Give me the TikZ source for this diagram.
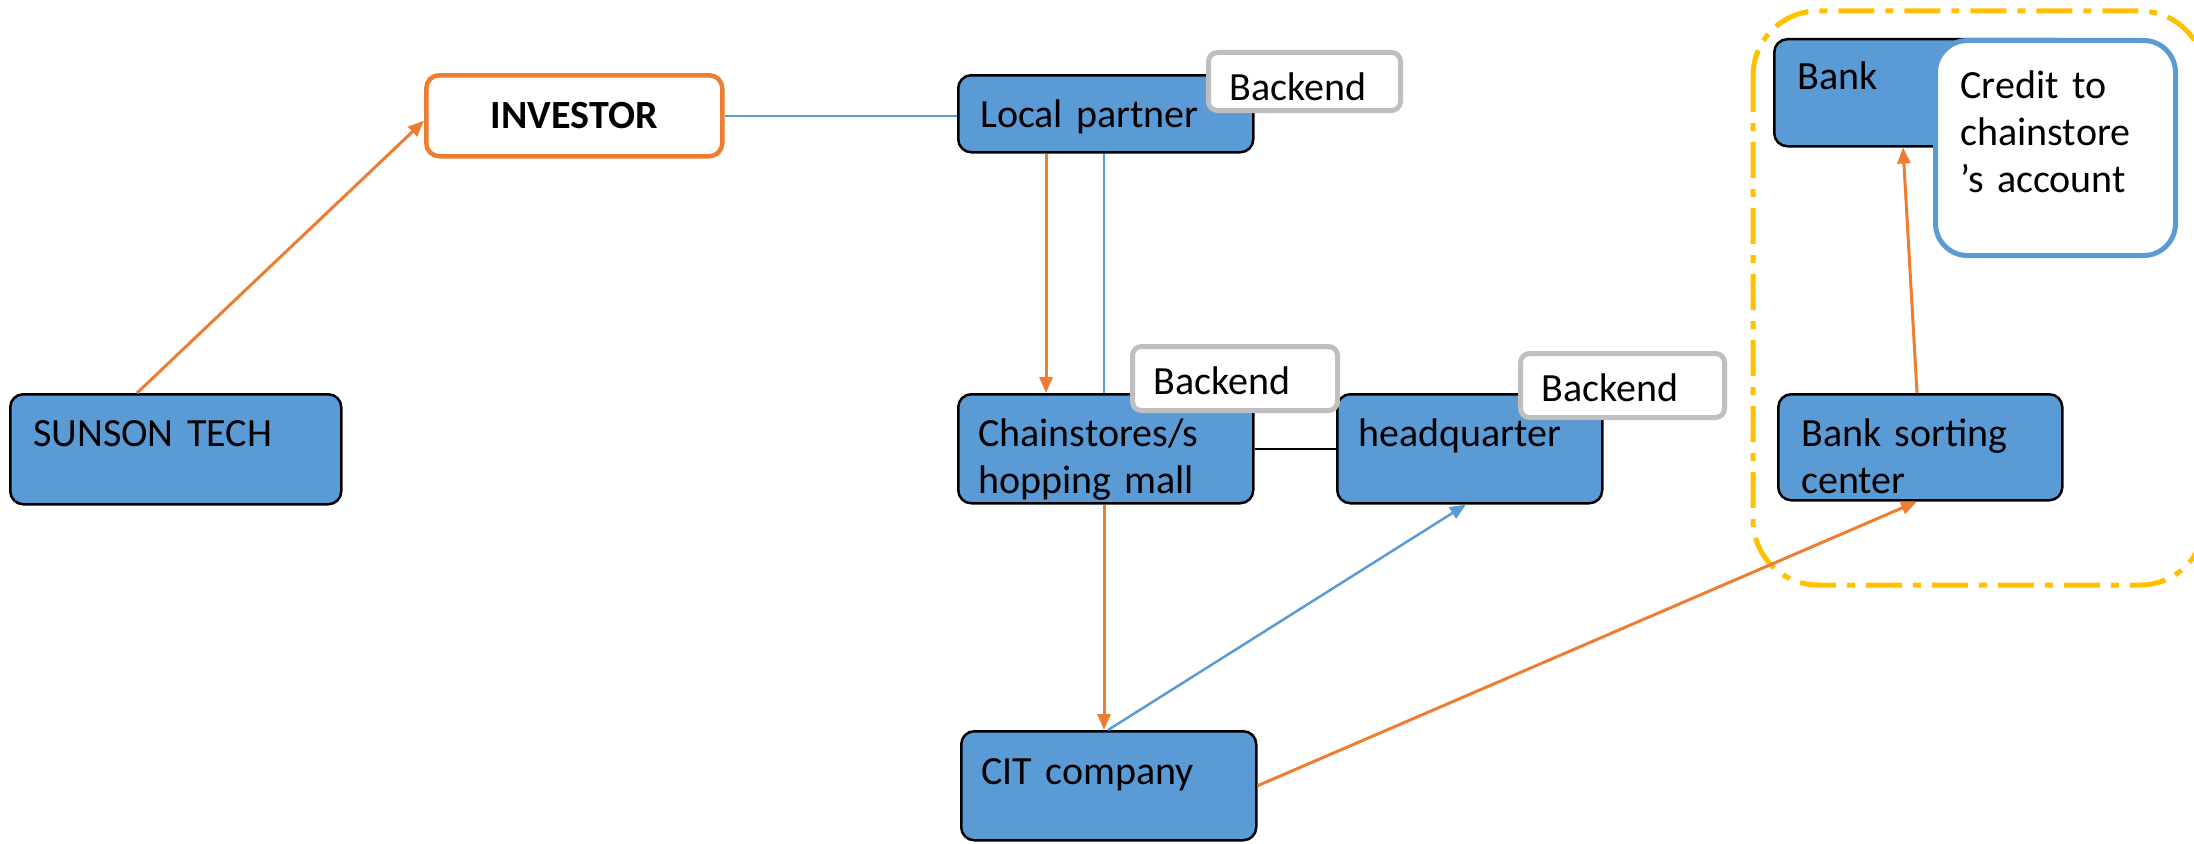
\documentclass[tikz,border=0pt]{standalone}
\usepackage{fontspec}
\setmainfont{Carlito}
\usetikzlibrary{arrows.meta}
\definecolor{boxblue}{HTML}{5B9BD5}
\definecolor{flow}{HTML}{ED7D31}
\definecolor{tagrey}{HTML}{BFBFBF}
\definecolor{zone}{HTML}{FFC000}
\tikzset{
  box/.style = {draw=black, fill=boxblue, line width=2.5pt, rounded corners=13pt,
    anchor=north west, align=left, inner ysep=0pt},
  tag/.style = {draw=tagrey, fill=white, line width=5pt, rounded corners=9pt,
    anchor=north west, align=left, inner xsep=21pt, inner ysep=0pt, text height=48pt},% backend labels
  money/.style = {->, flow, line width=3pt},
  info/.style = {boxblue, line width=2.5pt},
}

\begin{document}
\begin{tikzpicture}[x=1pt, y=-1pt, >={Triangle[length=16pt,width=13pt]},
  font=\fontsize{40pt}{47pt}\selectfont]
\useasboundingbox (0,0) rectangle (2194,843);
% bank side
\draw[zone, line width=5pt, rounded corners=65pt, dash pattern=on 36pt off 11pt on 8pt off 11pt] (1753,11) rectangle (2205,585);

\node[box, inner xsep=23pt, text width=285pt, text height=52pt, text depth=58pt] (sunson) at (9,393) {SUNSON TECH};
\node[draw=flow, fill=white, line width=4.5pt, rounded corners=13pt, anchor=north west,
  minimum width=296pt, minimum height=81pt, inner sep=0pt, font=\fontsize{40pt}{47pt}\selectfont\bfseries] (investor) at (424,73) {INVESTOR};
\node[box, inner xsep=22pt, text width=251pt, text height=52pt, text depth=25pt] (partner) at (957,74) {Local partner};
\node[box, inner xsep=20pt, text width=255pt, text height=52pt, text depth=57pt] (chain) at (957,393) {Chainstores/s\\hopping mall};
\node[box, inner xsep=21pt, text width=223pt, text height=52pt, text depth=57pt] (hq) at (1336,393) {headquarter};
\node[box, inner xsep=20pt, text width=255pt, text height=53pt, text depth=56pt] (cit) at (960,730) {CIT company};
\node[box, inner xsep=23pt, text width=249pt, text height=50pt, text depth=57pt] (bank) at (1773,38) {Bank};
\node[box, inner xsep=23pt, text width=238pt, text height=52pt, text depth=54pt] (sorting) at (1777,393) {Bank sorting\\center};

% flows
\draw[money] ([xshift=128pt]sunson.north west) -- ([yshift=-5pt]investor.west);
\draw[info] (investor.east) -- (investor.east -| partner.west);
\draw[money] ([xshift=89pt]partner.south west) -- ([xshift=89pt]chain.north west);
\draw[info] ([xshift=147pt]partner.south west) -- ([xshift=147pt]chain.north west);
\draw[black, line width=2.5pt] (chain.east) -- (hq.west);
\draw[money] ([xshift=147pt]chain.south west) -- ([xshift=144pt]cit.north west);
\draw[info, ->] ([xshift=148pt]cit.north west) -- ([xshift=130pt]hq.south west);
\draw[money] (cit.east) -- ([xshift=140pt]sorting.south west);
\draw[money] ([xshift=140pt]sorting.north west) -- ([xshift=130pt]bank.south west);

\node[tag, text width=150pt, text depth=10pt] (tag1) at (1206,50) {Backend};
\node[tag, text width=163pt, text depth=16pt] (tag2) at (1130,344) {Backend};
\node[tag, text width=162pt, text depth=16pt] (tag3) at (1518,351) {Backend};
\node[draw=boxblue, fill=white, line width=5pt, rounded corners=32pt, anchor=north west, align=left,
  inner xsep=25pt, inner ysep=0pt, text width=190pt, text height=58pt, text depth=157pt] (credit) at (1933,38) {Credit to\\chainstore\\’s account};
\end{tikzpicture}
\end{document}
